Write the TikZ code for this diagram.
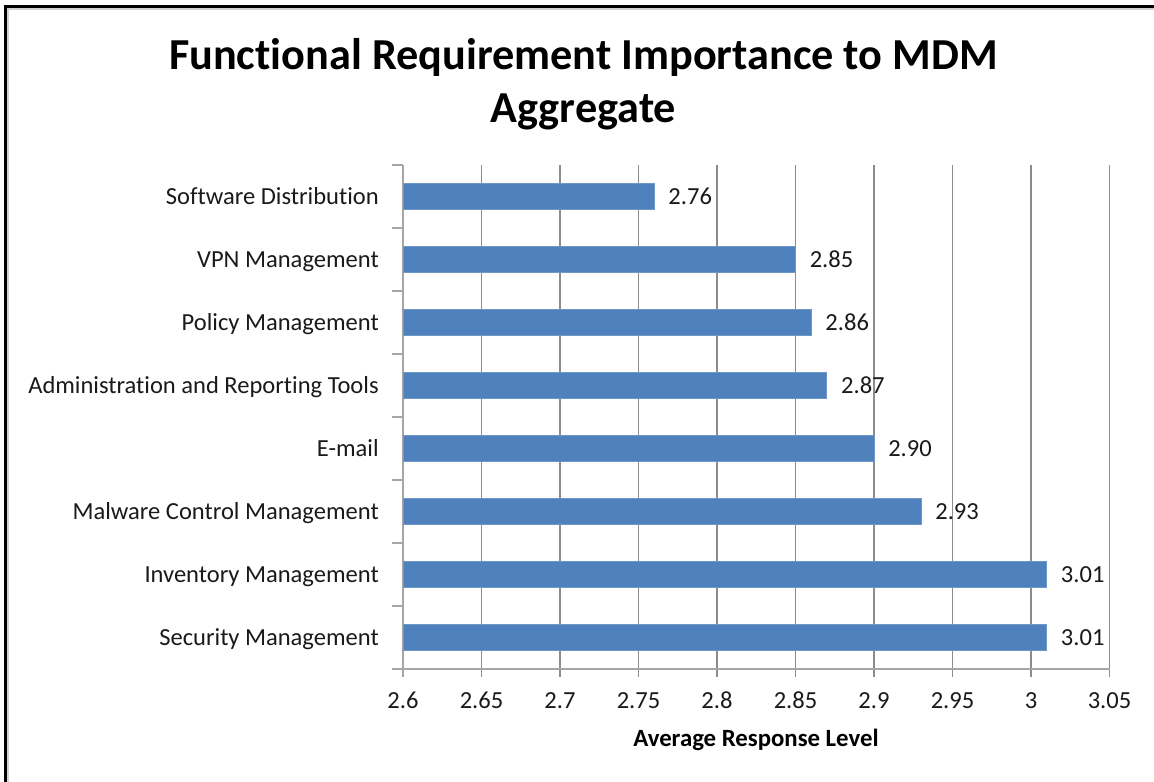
\documentclass[tikz,border=0pt]{standalone}
\usepackage{fontspec}
\setmainfont{Carlito}[Ligatures=NoCommon]
\definecolor{barblue}{HTML}{4F81BD}
\definecolor{baredge}{HTML}{6E97C8}
\definecolor{gridgray}{HTML}{8C8C8C}
\definecolor{axisgray}{HTML}{A6A6A6}
\definecolor{inkgray}{HTML}{1A1A1A}
\begin{document}
\begin{tikzpicture}[x=0.75pt,y=-0.75pt,
  catlabel/.style={font=\fontsize{18.4}{22}\selectfont, text=inkgray, anchor=base east, inner sep=0pt},
  vallabel/.style={font=\fontsize{18.4}{22}\selectfont, text=inkgray, anchor=base west, inner sep=0pt},
  ticklabel/.style={font=\fontsize{18.4}{22}\selectfont, text=inkgray, anchor=base, inner sep=0pt},
  titletext/.style={font=\fontsize{33.2}{40}\selectfont\bfseries, anchor=base, inner sep=0pt},
  axistitle/.style={font=\fontsize{18.6}{22}\selectfont\bfseries, anchor=base, inner sep=0pt},
  gridline/.style={draw=gridgray, line width=1pt},
  axisline/.style={draw=axisgray, line width=1.6pt},
  bar/.style={fill=barblue, draw=baredge, line width=0.6pt}]
\useasboundingbox (0,0) rectangle (1154,782);
\fill[white] (0,0) rectangle (1154,782);
% frame on the left and top edges
\fill[black] (4,5) rectangle (7.3,782);
\fill[black] (4,5) rectangle (1154,8.3);
\fill[gray!35] (7.3,8.3) rectangle (9.3,782);
\fill[gray!35] (7.3,8.3) rectangle (1154,9.6);
% title
\node[titletext] (title1) at (583.5,69) {Functional Requirement Importance to MDM};
\node[titletext] (title2) at (583.5,122) {Aggregate};
% vertical gridlines every 0.05
\foreach \k in {1,...,9} {
  \pgfmathsetmacro\gx{403+78.5*\k}
  \draw[gridline] (\gx,165) -- (\gx,677);
}
% category axis with ticks between categories
\draw[axisline] (403,165) -- (403,677);
\foreach \j in {0,...,8} {
  \pgfmathsetmacro\ty{165+63*\j}
  \draw[axisline] (392,\ty) -- (403,\ty);
}
% value axis
\draw[axisline] (403,669) -- (1109.5,669);
% value tick labels
\foreach \t [count=\k from 0] in {2.6,2.65,2.7,2.75,2.8,2.85,2.9,2.95,3,3.05} {
  \pgfmathsetmacro\gx{403+78.5*\k}
  \node[ticklabel] (tick\k) at (\gx,708) {\t};
}
\node[axistitle] (xtitle) at (756,746) {Average Response Level};
% bars, category names and value labels
\foreach \v/\s/\name [count=\i from 0] in {
  2.76/2.76/Software Distribution,
  2.85/2.85/VPN Management,
  2.86/2.86/Policy Management,
  2.87/2.87/Administration and Reporting Tools,
  2.90/2.90/E-mail,
  2.93/2.93/Malware Control Management,
  3.01/3.01/Inventory Management,
  3.01/3.01/Security Management} {
  \pgfmathsetmacro\yc{196.5+63*\i}
  \pgfmathsetmacro\xe{403+(\v-2.6)*1570}
  \draw[bar] (403.8,\yc-13) rectangle (\xe,\yc+13);
  \node[catlabel] (cat\i) at (379,\yc+7.5) {\name};
  \node[vallabel] (val\i) at (\xe+14,\yc+7.5) {\s};
}
\end{tikzpicture}
\end{document}
